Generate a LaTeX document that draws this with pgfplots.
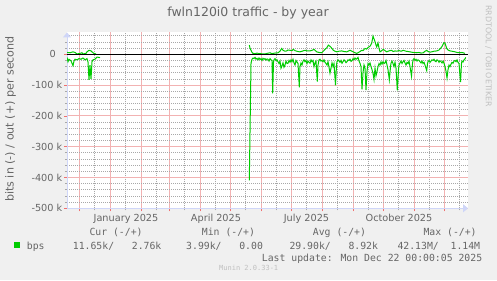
\documentclass[border=0pt]{standalone}
\usepackage{fontspec}
\setmainfont{DejaVu Sans}
\newfontfamily\monofont{DejaVu Sans Mono}
\usepackage{pgfplots}
\pgfplotsset{compat=1.18}
\usetikzlibrary{arrows.meta}
\definecolor{bgcol}{HTML}{F0F0F0}
\definecolor{fontcol}{HTML}{666666}
\definecolor{axiscol}{HTML}{CFD6F8}
\definecolor{mgridcol}{HTML}{F2B2B2}
\definecolor{mtickcol}{HTML}{F07070}
\definecolor{gridcol}{HTML}{A8A8A8}
\definecolor{mgreen}{HTML}{00CC00}
\definecolor{wmcol}{HTML}{C0C0C0}
\newcommand\axisfont{\fontsize{9.72bp}{11bp}\selectfont}
\newcommand\titlefont{\fontsize{12.5bp}{14bp}\selectfont}
\newcommand\unitfont{\fontsize{11.1bp}{13bp}\selectfont}
\newcommand\legfont{\monofont\fontsize{9.8bp}{11bp}\selectfont}
\newcommand\wmfont{\fontsize{7.9bp}{9bp}\selectfont}
\newcommand\verfont{\monofont\fontsize{7bp}{8bp}\selectfont}

% early segment (days since 1 Jan 2025, values in kbit/s)
\pgfplotstableread{
d v
-43 6
-40 5
-37 8
-35 6
-33 1
-30 3
-28 5
-27 1
-24 3
-23 8
-21 13
-19 11
-17 5
-16 3
-14 1
}\outA
\pgfplotstableread{
d v
-43 -10
-42 -24
-41 -16
-39 -21
-37 -37
-36 -22
-35 -16
-33 -18
-31 -14
-29 -16
-27 -12
-25 -18
-23 -14
-22 -25
-21 -83
-20 -35
-19 -80
-18 -24
-17 -18
-15 -16
-13 -9
-11 -10
-10 -11
}\inA
\pgfplotstableread{
d v
139.3 30
140 20
141.7 8
143 3
145 2
147 4
149 2
150 3
152 1
155 1
157 3
160 5
162 2
163.3 3
165 4
168 5
170 10
171.7 19
173 13
175 10
176.7 11
178 14
180 13
182 12
183.3 16
185 12
186.7 10
188 9
190 8
192 10
195 13
197 11
200 11
202 13
204 16
206.7 8
209 6
211.7 5
213 9
215 16
217 22
218.3 30
220.7 24
223.3 13
225 10
226.7 8
229 10
231.7 11
234 9
236.7 8
238 10
240 13
242 10
243.3 8
245 5
246.7 3
248 5
250 9
251.7 13
253 12
255 19
256.5 17
258.3 23
260 26
261.7 36
263 59
264 50
265 41
266 30
266.7 24
268 37
269 20
270 8
271 10
273.3 16
275 12
276.7 8
278 10
280 12
281.7 13
283 9
285 11
286.7 10
289 12
291 10
293.3 13
296 10
298 9
300 8
303 6
306.7 5
309 6
311 4
313.3 5
315 10
316.7 13
318 9
320 7
321.7 8
324 10
326.7 11
329 14
331.7 24
334 38
335 36
336.7 19
338 14
340 11
342 10
345 8
347 6
350 5
352 6
355 3
}\outB
\pgfplotstableread{
d v
139.3 -409
141 -29
142 -16
143 -12
144 -14
145 -10
146 -16
147 -13
148 -18
149 -12
150 -17
151 -14
152 -20
153 -13
154 -16
155 -14
156 -19
157 -15
158 -16
159 -22
160 -14
161 -18
162 -20
162.7 -127
163.5 -25
164 -18
165 -14
166 -20
167 -18
168 -24
169 -30
170 -22
171 -45
172 -38
173 -28
174 -42
175 -35
176 -22
177 -30
178 -29
179 -20
180 -26
181 -18
182 -24
183 -16
184 -28
185 -35
186 -20
187 -25
188 -30
189.3 -107
190 -40
191 -28
192 -35
193 -22
194 -18
195 -24
196 -20
197 -30
198 -22
199 -26
200 -29
201 -18
202 -24
203 -20
204 -40
205 -28
206 -22
207.3 -89
208 -35
209 -18
210 -16
211 -22
212 -20
213 -24
214 -18
215 -26
216 -30
217 -35
218 -24
219 -42
220 -61
221 -45
222 -28
223 -40
224 -30
225.5 -101
226.5 -35
227 -24
228 -18
229 -22
230 -26
231 -20
232 -29
233 -24
234 -18
235 -22
236 -27
237 -24
238 -18
239 -20
240 -16
241 -23
242 -21
243 -14
244 -18
245 -12
246 -16
247 -14
248 -10
249 -22
250 -29
251 -40
252 -114
253 -60
254 -35
255 -45
256 -116
257 -55
258 -30
259 -35
260 -28
261 -40
262 -50
263 -62
264 -82
265 -45
266 -70
267 -56
268 -40
269 -30
270 -35
271 -25
272 -32
273 -24
274 -30
275 -28
276 -20
277 -35
278 -50
279.3 -83
280.5 -40
281 -29
282 -22
283 -30
284 -40
285 -26
286 -45
287.3 -117
288.5 -50
289 -35
290 -28
291 -22
292 -30
293 -24
294 -20
295 -28
296 -35
297 -26
298 -30
299 -22
300 -40
301.5 -71
302.5 -30
303 -18
304 -14
305 -20
306 -16
307 -22
308 -18
309 -20
310 -24
311 -28
312 -22
313 -30
314 -26
315 -35
316.7 -53
317.5 -30
318 -24
319 -20
320 -26
321 -22
322 -18
323 -20
324 -16
325 -22
326 -24
327 -18
328 -20
329 -26
330 -21
331 -24
332 -28
333 -22
334 -29
335 -40
336 -55
337 -77
338 -50
339 -35
340 -40
341 -32
342 -26
343 -29
344 -22
345 -20
346 -24
347 -18
348 -26
349 -30
350.5 -90
351.5 -29
352 -22
353 -25
354 -18
355 -15
355.7 -10
}\inB

\begin{document}
\begin{tikzpicture}[x=1bp,y=1bp]
\fill[bgcol] (0,0) rectangle (497,280);
\useasboundingbox (0,0) rectangle (497,280);
\begin{axis}[
  at={(67bp,71.7bp)}, anchor=south west,
  scale only axis, width=401bp, height=175.8bp,
  xmin=-43, xmax=358, ymin=-500, ymax=70.8,
  axis background/.style={fill=white},
  axis x line=bottom, axis y line=left,
  axis line style={color=axiscol, line width=1bp},
  x axis line style={-{Triangle[length=5bp,width=8bp]}},
  y axis line style={-{Triangle[length=5bp,width=8bp]}},
  xtick={-31,0,31,59,90,120,151,181,212,243,273,304,334},
  xticklabels={},
  minor xtick={-16,15,46,74,105,135,166,196,227,258,288,319,349},
  extra x ticks={16,106,196.5,289},
  extra x tick labels={January 2025,April 2025,July 2025,October 2025},
  extra x tick style={grid=none, major tick length=0pt},
  ytick={-500,-400,-300,-200,-100,0},
  yticklabels={-500 k,-400 k,-300 k,-200 k,-100 k,0\rule{6.5bp}{0pt}},
  minor ytick={-480,-460,-440,-420,-380,-360,-340,-320,-280,-260,-240,-220,-180,-160,-140,-120,-80,-60,-40,-20,20,40,60},
  xmajorgrids=true, ymajorgrids=true, xminorgrids=true, yminorgrids=true,
  every minor grid/.style={draw=gridcol, line width=0.8bp, dash pattern=on 1bp off 1bp},
  every major grid/.style={draw=mgridcol, line width=0.9bp},
  tick align=outside,
  major tick length=3bp, minor tick length=2bp,
  every major tick/.style={draw=mtickcol, line width=0.8bp},
  every minor tick/.style={draw=gridcol, line width=0.8bp},
  tick label style={font=\axisfont, text=fontcol},
  yticklabel style={anchor=east, inner sep=0pt, xshift=-1.5bp},
  xticklabel style={anchor=base, inner sep=0pt, yshift=-13bp},
]
\addplot[mgreen, line width=1bp] table[x=d,y=v] {\outA};
\addplot[mgreen, line width=1bp] table[x=d,y=v] {\inA};
\addplot[mgreen, line width=1bp] table[x=d,y=v] {\outB};
\addplot[mgreen, line width=1bp] table[x=d,y=v] {\inB};
\addplot[black, line width=1.2bp] coordinates {(-43,0) (358,0)};
\end{axis}
\node[anchor=base, inner sep=0pt, font=\titlefont, text=fontcol] at (248,264) {fwln120i0 traffic - by year};
\node[rotate=90, anchor=base, inner sep=0pt, font=\unitfont, text=fontcol] at (13.5,161) {bits in (-) / out (+) per second};
\node[rotate=-90, anchor=west, inner sep=0pt, font=\wmfont, text=wmcol] at (488.5,275) {RRDTOOL / TOBI OETIKER};
\begin{scope}[every node/.style={anchor=base west, inner sep=0pt, font=\legfont, text=fontcol}]
\node at (89.3,44.5) {Cur (-/+)};
\node at (201.7,44.5) {Min (-/+)};
\node at (312.7,44.5) {Avg (-/+)};
\node at (423.3,44.5) {Max (-/+)};
\node at (26.7,31) {bps};
\node at (72.7,31) {11.65k/\ \ \ 2.76k};
\node at (186,31) {3.99k/\ \ \ 0.00};
\node at (289.3,31) {29.90k/\ \ \ 8.92k};
\node at (397.3,31) {42.13M/\ \ 1.14M};
\node at (261.7,18.5) {Last update: Mon Dec 22 00:00:05 2025};
\end{scope}
\fill[mgreen] (14,31.7) rectangle (20,37.7);
\node[anchor=base west, inner sep=0pt, font=\verfont, text=wmcol] at (219,9.5) {Munin 2.0.33-1};
\end{tikzpicture}
\end{document}
